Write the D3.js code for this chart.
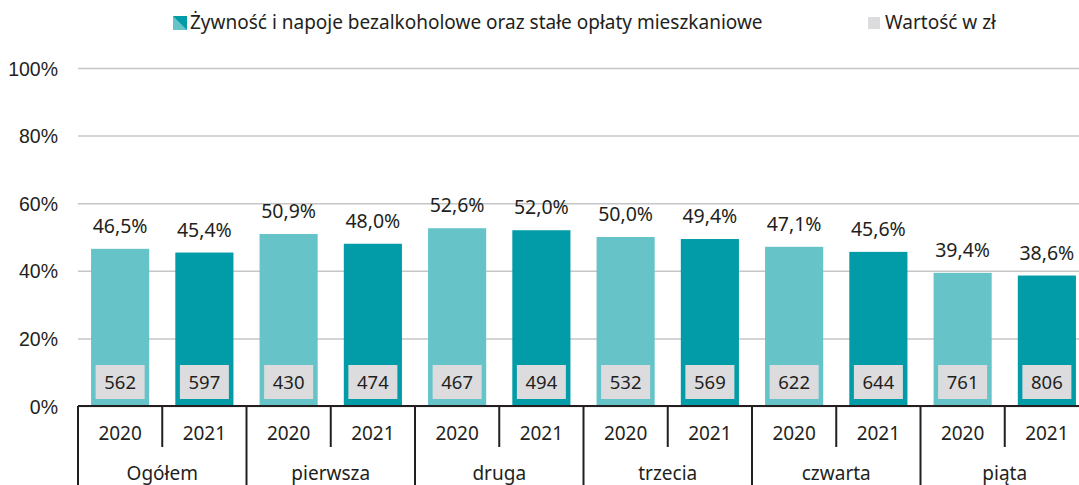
<!DOCTYPE html>
<html>
<head>
<meta charset="utf-8">
<script src="https://cdn.jsdelivr.net/npm/d3@7"></script>
<style>
  body { margin: 0; background: #fff; }
  svg { display: block; font-family: "Noto Sans", sans-serif; }
</style>
</head>
<body>
<svg id="canvas"></svg>
<script>
/** Data */
let groups = ['Ogółem', 'pierwsza', 'druga', 'trzecia', 'czwarta', 'piąta'];
let years = ['2020', '2021'];
let share2020 = [46.5, 50.9, 52.6, 50.0, 47.1, 39.4];
let share2021 = [45.4, 48.0, 52.0, 49.4, 45.6, 38.6];
let value2020 = [562, 430, 467, 532, 622, 761];
let value2021 = [597, 474, 494, 569, 644, 806];
let yTicks = [0, 20, 40, 60, 80, 100];

let legendLabels = ['Żywność i napoje bezalkoholowe oraz stałe opłaty mieszkaniowe', 'Wartość w zł'];

let width = 1079;
let height = 485;

let left = 78;
let groupWidth = 168.5;
let yTop = 68;
let yBottom = 406;

let colors = { '2020': '#66c4c9', '2021': '#019ca7' };
let textColor = '#231f20';

let canvas = d3.select('#canvas').attr('width', width).attr('height', height);

// flatten into one row per bar
let rows = [];
groups.forEach((g, i) => {
    rows.push({ group: g, year: '2020', share: share2020[i], value: value2020[i] });
    rows.push({ group: g, year: '2021', share: share2021[i], value: value2021[i] });
});

let xScale = d3.scaleBand()
    .domain(groups)
    .range([left, left + groupWidth * groups.length]);

let xInner = d3.scaleBand()
    .domain(years)
    .range([0, xScale.bandwidth()])
    .paddingInner(0.31)
    .paddingOuter(0.155);

let yScale = d3.scaleLinear()
    .domain([0, 100])
    .range([yBottom, yTop]);

/** Gridlines and y axis */
let yAxis = d3.axisLeft(yScale)
    .tickValues(yTicks)
    .tickSize(-(width - left))
    .tickFormat((d) => d + '%');

let yG = canvas.append('g')
    .attr('transform', `translate(${left}, 0)`)
    .call(yAxis);
yG.select('.domain').remove();
yG.selectAll('.tick line').attr('stroke', '#c6c6c8').attr('stroke-width', 1.5);
yG.selectAll('.tick text')
    .attr('x', -20)
    .attr('dy', '0.36em')
    .attr('fill', textColor)
    .style('font-size', '19.5px');

/** Bars */
let bars = canvas.append('g').selectAll('g')
    .data(rows)
    .enter()
    .append('g')
    .attr('transform', (d) => `translate(${xScale(d.group) + xInner(d.year)}, 0)`);

bars.append('rect')
    .attr('x', 0)
    .attr('y', (d) => yScale(d.share))
    .attr('width', xInner.bandwidth())
    .attr('height', (d) => yScale(0) - yScale(d.share))
    .attr('fill', (d) => colors[d.year]);

bars.append('text')
    .attr('x', xInner.bandwidth() / 2)
    .attr('y', (d) => yScale(d.share) - 16)
    .attr('text-anchor', 'middle')
    .attr('fill', textColor)
    .style('font-size', '19.5px')
    .text((d) => d3.format('.1f')(d.share).replace('.', ',') + '%');

// value boxes
let boxW = 49;
bars.append('rect')
    .attr('x', (xInner.bandwidth() - boxW) / 2)
    .attr('y', 365)
    .attr('width', boxW)
    .attr('height', 34)
    .attr('fill', '#dcdcdf');

bars.append('text')
    .attr('x', xInner.bandwidth() / 2)
    .attr('y', 389)
    .attr('text-anchor', 'middle')
    .attr('fill', textColor)
    .style('font-size', '18.5px')
    .text((d) => d.value);

/** x axis: baseline, year ticks, group ticks */
let axisG = canvas.append('g');

axisG.append('line')
    .attr('x1', left).attr('x2', width)
    .attr('y1', yBottom).attr('y2', yBottom)
    .attr('stroke', textColor).attr('stroke-width', 2);

axisG.selectAll('.group-tick')
    .data(groups)
    .enter()
    .append('line')
    .attr('x1', (d) => xScale(d)).attr('x2', (d) => xScale(d))
    .attr('y1', yBottom).attr('y2', height)
    .attr('stroke', textColor).attr('stroke-width', 2);

axisG.selectAll('.year-tick')
    .data(groups)
    .enter()
    .append('line')
    .attr('x1', (d) => xScale(d) + xScale.bandwidth() / 2)
    .attr('x2', (d) => xScale(d) + xScale.bandwidth() / 2)
    .attr('y1', yBottom).attr('y2', 447)
    .attr('stroke', textColor).attr('stroke-width', 2);

axisG.selectAll('.year-label')
    .data(rows)
    .enter()
    .append('text')
    .attr('x', (d) => xScale(d.group) + xInner(d.year) + xInner.bandwidth() / 2)
    .attr('y', 440)
    .attr('text-anchor', 'middle')
    .attr('fill', textColor)
    .style('font-size', '19px')
    .text((d) => d.year);

axisG.selectAll('.group-label')
    .data(groups)
    .enter()
    .append('text')
    .attr('x', (d) => xScale(d) + xScale.bandwidth() / 2)
    .attr('y', 480)
    .attr('text-anchor', 'middle')
    .attr('fill', textColor)
    .style('font-size', '19px')
    .text((d) => d);

/** Legend */
let legend = canvas.append('g');

legend.append('rect')
    .attr('x', 173).attr('y', 16).attr('width', 14).attr('height', 14)
    .attr('fill', colors['2020']);
legend.append('path')
    .attr('d', 'M173,16 L187,16 L187,30 Z')
    .attr('fill', colors['2021']);
legend.append('text')
    .attr('x', 190).attr('y', 29)
    .attr('fill', textColor)
    .style('font-size', '19px')
    .text(legendLabels[0]);

legend.append('rect')
    .attr('x', 868).attr('y', 17).attr('width', 12).attr('height', 12)
    .attr('fill', '#dcdcdf');
legend.append('text')
    .attr('x', 885).attr('y', 29)
    .attr('fill', textColor)
    .style('font-size', '19px')
    .text(legendLabels[1]);
</script>
</body>
</html>
